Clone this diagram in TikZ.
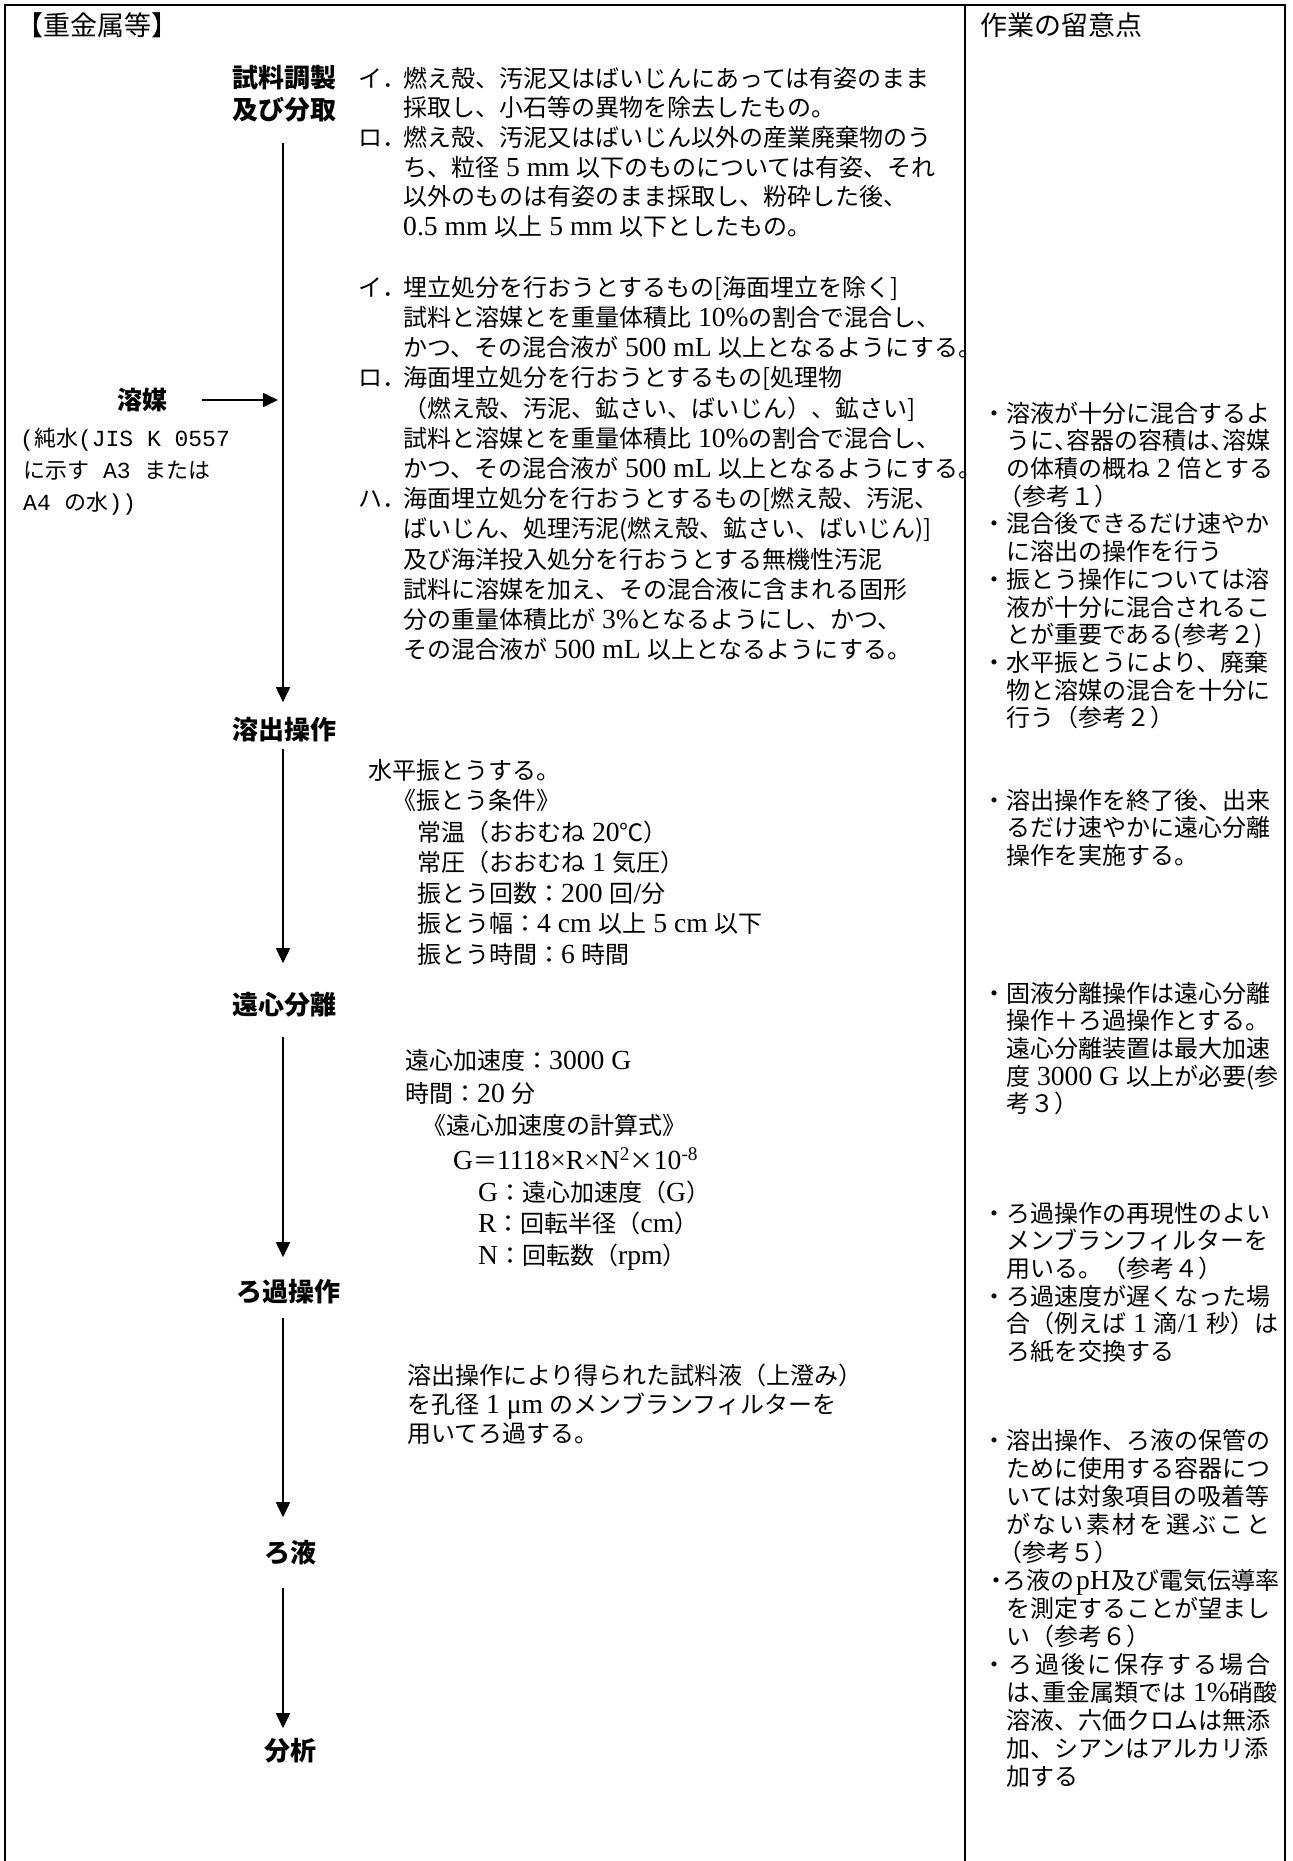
\documentclass[tikz,border=0pt]{standalone}
\usepackage{fontspec}
\setmainfont{Noto Sans CJK JP}
\newfontfamily\en[Scale=1.15]{Liberation Serif}
\newfontfamily\mono{Liberation Mono}
\usetikzlibrary{arrows.meta}
\newcommand\hk{\makebox[0.5em][l]{、}}
\newcommand\mn[1]{{\mono\fontsize{23}{23}\selectfont #1}}
\newcommand\rnote[4]{\node[note] (#1) at (#2,#3) {#4};}
\begin{document}
\begin{tikzpicture}[x=1pt,y=-1pt,
  body/.style={anchor=base west,inner sep=0pt,font=\fontsize{24}{24}\selectfont},
  note/.style={anchor=base west,inner sep=0pt,font=\fontsize{24}{24}\selectfont},
  head/.style={anchor=base west,inner sep=0pt,font=\fontsize{27}{27}\selectfont},
  small/.style={anchor=base west,inner sep=0pt,font=\fontsize{22}{22}\selectfont},
  lab/.style={inner sep=0pt,text height=21.5pt,text depth=1.7pt,font=\fontsize{26}{26}\selectfont\bfseries},
  flow/.style={line width=1.6pt,-{Triangle[width=14pt,length=15pt]}},
  frame/.style={line width=2pt}]
\useasboundingbox (0,0) rectangle (1293,1861);
\fill[white] (0,0) rectangle (1293,1861);
% frame
\draw[frame] (5,1861) -- (5,5) -- (1285,5) -- (1285,1861);
\draw[frame] (965,5) -- (965,1861);
% headers
\node[head] (hd1) at (16,35.3) {【重金属等】};
\node[head] (hd2) at (980,35.3) {作業の留意点};
% flow labels
\coordinate (spine) at (283,0);
\node[lab] (prep1) at (284.5,78) {試料調製};
\node[lab] (prep2) at (284.5,110) {及び分取};
\node[lab] (elu) at (284.5,730) {溶出操作};
\node[lab] (cen) at (284.5,1005) {遠心分離};
\node[lab] (fil) at (288,1292) {ろ過操作};
\node[lab] (filt) at (290,1553) {ろ液};
\node[lab] (ana) at (290,1751) {分析};
\node[lab,font=\fontsize{25}{25}\selectfont\bfseries] (solv) at (142,400) {溶媒};
% flow arrows
\draw[flow,shorten <=21pt,shorten >=16pt] (prep2.south -| spine) -- (elu.north -| spine);
\draw[flow,shorten <=7pt,shorten >=30pt] (elu.south -| spine) -- (cen.north -| spine);
\draw[flow,shorten <=20pt,shorten >=23pt] (cen.south -| spine) -- (fil.north -| spine);
\draw[flow,shorten <=14pt,shorten >=24pt] (fil.south -| spine) -- (filt.north -| spine);
\draw[flow,shorten <=23pt,shorten >=11pt] (filt.south -| spine) -- (ana.north -| spine);
\draw[flow,shorten <=35pt,shorten >=5pt] (solv.east) -- (solv.east -| spine);
% solvent note
\node[small] (pw1) at (20,446.4) {\mn{(}純水\mn{(JIS K 0557}};
\node[small] (pw2) at (23,478.4) {に示す\mn{ A3 }または};
\node[small] (pw3) at (23,510.4) {\mn{A4 }の水\mn{))}};
% block 1
\node[body] (ma1) at (358,87.3) {イ．};
\node[body] (ma2) at (358,146.5) {ロ．};
\foreach \t [count=\i from 0] in {
  {燃え殻、汚泥又はばいじんにあっては有姿のまま},
  {採取し、小石等の異物を除去したもの。},
  {燃え殻、汚泥又はばいじん以外の産業廃棄物のう},
  {ち、粒径{\en\ 5 mm }以下のものについては有姿、それ},
  {以外のものは有姿のまま採取し、粉砕した後、},
  {{\en 0.5 mm }以上{\en\ 5 mm }以下としたもの。}}
  \node[body] (ba\i) at (403,87.3+\i*29.6) {\t};
% block 2
\node[body] (mb1) at (358,296.3) {イ．};
\node[body] (mb2) at (358,386.9) {ロ．};
\node[body] (mb3) at (358,507.7) {ハ．};
\foreach \t [count=\i from 0] in {
  {埋立処分を行おうとするもの[海面埋立を除く]},
  {試料と溶媒とを重量体積比{\en\ 10\%}の割合で混合し、},
  {かつ、その混合液が{\en\ 500 mL }以上となるようにする。},
  {海面埋立処分を行おうとするもの[処理物},
  {（燃え殻、汚泥、鉱さい、ばいじん）、鉱さい]},
  {試料と溶媒とを重量体積比{\en\ 10\%}の割合で混合し、},
  {かつ、その混合液が{\en\ 500 mL }以上となるようにする。},
  {海面埋立処分を行おうとするもの[燃え殻、汚泥、},
  {ばいじん、処理汚泥(燃え殻、鉱さい、ばいじん)]},
  {及び海洋投入処分を行おうとする無機性汚泥},
  {試料に溶媒を加え、その混合液に含まれる固形},
  {分の重量体積比が{\en\ 3\%}となるようにし、かつ、},
  {その混合液が{\en\ 500 mL }以上となるようにする。}}
  \node[body] (bb\i) at (403,296.3+\i*30.2) {\t};
% shaking
\node[body] (s0) at (368,779.3) {水平振とうする。};
\node[body] (s1) at (392,809.3) {《振とう条件》};
\node[body] (s2) at (417,841.3) {常温（おおむね{\en\ 20}℃）};
\node[body] (s3) at (417,871.8) {常圧（おおむね{\en\ 1 }気圧）};
\node[body] (s4) at (417,902.3) {振とう回数：{\en 200 }回{\en /}分};
\node[body] (s5) at (417,932.8) {振とう幅：{\en 4 cm }以上{\en\ 5 cm }以下};
\node[body] (s6) at (417,963.3) {振とう時間：{\en 6 }時間};
% centrifuge
\node[body] (c0) at (405,1069.3) {遠心加速度：{\en 3000 G}};
\node[body] (c1) at (405,1102.3) {時間：{\en 20 }分};
\node[body] (c2) at (422,1134.3) {《遠心加速度の計算式》};
\node[body] (c3) at (453,1169.3) {{\en G}＝{\en 1118×R×N\textsuperscript{2}}×{\en 10\textsuperscript{-8}}};
\node[body] (c4) at (478,1201.3) {{\en G}：遠心加速度（{\en G}）};
\node[body] (c5) at (478,1232.3) {{\en R}：回転半径（{\en cm}）};
\node[body] (c6) at (478,1264.3) {{\en N}：回転数（{\en rpm}）};
% filtration
\node[body] (f0) at (407,1384.3) {溶出操作により得られた試料液（上澄み）};
\node[body] (f1) at (407,1413.3) {を孔径{\en\ 1 μm }のメンブランフィルターを};
\node[body] (f2) at (407,1442.3) {用いてろ過する。};
% notes column
\rnote{r1}{982}{422.1}{・溶液が十分に混合するよ}
\rnote{r2}{1006}{449.8}{うに\hk 容器の容積は\hk 溶媒}
\rnote{r3}{1006}{477.5}{の体積の概ね{\en\ 2 }倍とする}
\rnote{r4}{998}{505.2}{（参考１）}
\rnote{r5}{982}{532.9}{・混合後できるだけ速やか}
\rnote{r6}{1006}{560.6}{に溶出の操作を行う}
\rnote{r7}{982}{588.3}{・振とう操作については溶}
\rnote{r8}{1006}{616.0}{液が十分に混合されるこ}
\rnote{r9}{1006}{643.7}{とが重要である(参考２)}
\rnote{r10}{982}{671.4}{・水平振とうにより、廃棄}
\rnote{r11}{1006}{699.1}{物と溶媒の混合を十分に}
\rnote{r12}{1006}{726.8}{行う（参考２）}
\rnote{r13}{982}{809.1}{・溶出操作を終了後、出来}
\rnote{r14}{1006}{836.8}{るだけ速やかに遠心分離}
\rnote{r15}{1006}{864.5}{操作を実施する。}
\rnote{r16}{982}{1002.1}{・固液分離操作は遠心分離}
\rnote{r17}{1006}{1029.8}{操作＋ろ過操作とする。}
\rnote{r18}{1006}{1057.5}{遠心分離装置は最大加速}
\rnote{r19}{1006}{1085.2}{度{\en\ 3000 G }以上が必要(参}
\rnote{r20}{1006}{1112.9}{考３）}
\rnote{r21}{982}{1222.1}{・ろ過操作の再現性のよい}
\rnote{r22}{1006}{1249.8}{メンブランフィルターを}
\rnote{r23}{1006}{1277.5}{用いる。（参考４）}
\rnote{r24}{982}{1305.2}{・ろ過速度が遅くなった場}
\rnote{r25}{1006}{1332.9}{合（例えば{\en\ 1 }滴{\en /1 }秒）は}
\rnote{r26}{1006}{1360.6}{ろ紙を交換する}
\rnote{r27}{982}{1449.1}{・溶出操作、ろ液の保管の}
\rnote{r28}{1006}{1477.1}{ために使用する容器につ}
\rnote{r29}{1006}{1505.1}{いては対象項目の吸着等}
\rnote{r30}{1006}{1533.1}{\makebox[264pt][s]{が\hfill な\hfill い\hfill 素\hfill 材\hfill を\hfill 選\hfill ぶ\hfill こ\hfill と}}
\rnote{r31}{998}{1561.1}{（参考５）}
\rnote{r32}{990}{1589.1}{\makebox[12pt][c]{・}ろ液の\hspace{2pt}{\en pH}\hspace{2pt}及び電気伝導率}
\rnote{r33}{1006}{1617.1}{を測定することが望まし}
\rnote{r34}{1006}{1645.1}{い（参考６）}
\rnote{r35}{982}{1673.1}{\makebox[288pt][s]{・\hfill ろ\hfill 過\hfill 後\hfill に\hfill 保\hfill 存\hfill す\hfill る\hfill 場\hfill 合}}
\rnote{r36}{1006}{1701.1}{は\hk 重金属類では{\en\ 1\%}硝酸}
\rnote{r37}{1006}{1729.1}{溶液、六価クロムは無添}
\rnote{r38}{1006}{1757.1}{加、シアンはアルカリ添}
\rnote{r39}{1006}{1785.1}{加する}
\end{tikzpicture}
\end{document}
